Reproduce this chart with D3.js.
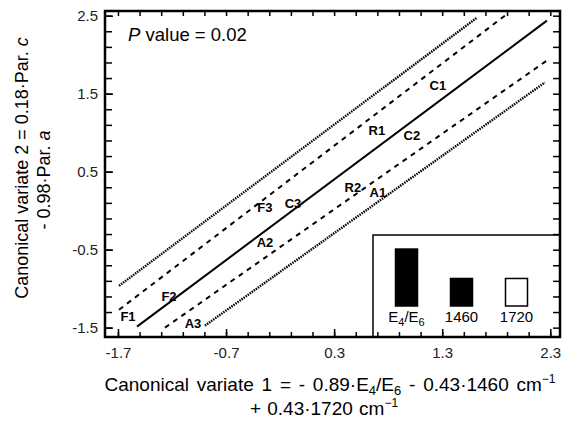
<!DOCTYPE html>
<html>
<head>
<meta charset="utf-8">
<script src="https://cdn.jsdelivr.net/npm/d3@7/dist/d3.min.js"></script>
<style>
    body { margin: 0; background: #fff; }
    svg { font-family: "Liberation Sans", Arial, sans-serif; }
    .axis path, .axis line { stroke: #000; }
</style>
</head>
<body>
<div id="chart"></div>
<script>
// tick labels
var xTicks = [-1.7, -0.7, 0.3, 1.3, 2.3];
var yTicks = [-1.5, -0.5, 0.5, 1.5, 2.5];

// sample scores (labels sit on the points)
var pointNames = ["F1", "F2", "F3", "A1", "A2", "A3", "R1", "R2", "C1", "C2", "C3"];
var pointX = [-1.607, -1.228, -0.340, 0.705, -0.340, -1.006, 0.696, 0.474, 1.260, 1.020, -0.081];
var pointY = [-1.359, -1.104, 0.046, 0.238, -0.401, -1.449, 1.030, 0.302, 1.605, 0.966, 0.097];

// regression line and bands, end points [x, y]
var fitLine = [[-1.524, -1.487], [2.269, 2.436]];
var innerUpper = [[-1.690, -1.270], [1.880, 2.500]];
var innerLower = [[-1.265, -1.500], [2.269, 1.925]];
var outerUpper = [[-1.690, -0.963], [1.621, 2.474]];
var outerLower = [[-0.895, -1.474], [2.250, 1.644]];

// legend: absolute coefficients of canonical variate 1, filled = negative
var legendNames = ["E4/E6", "1460", "1720"];
var legendCoefs = [0.89, 0.43, 0.43];
var legendNegative = [true, true, false];

var width = 567, height = 426;
var margin = {left: 105, right: 7, top: 11, bottom: 89};

var svg = d3.select("#chart").append("svg")
    .attr("width", width).attr("height", height);

var x = d3.scaleLinear().domain([-1.82, 2.39]).range([margin.left, width - margin.right]);
var y = d3.scaleLinear().domain([-1.62, 2.56]).range([height - margin.bottom, margin.top]);

var x0 = x.range()[0], x1 = x.range()[1], y0 = y.range()[0], y1 = y.range()[1];
var fmt = d => d.toFixed(1);

// legend box (drawn first so the frame ticks stay on top)
var lg = svg.append("g").attr("class", "legend");
lg.append("rect")
    .attr("x", 373).attr("y", 235)
    .attr("width", x1 - 373).attr("height", y0 - 235)
    .attr("fill", "#fff").attr("stroke", "#000").attr("stroke-width", 1.5);

var lx = d3.scaleBand().domain(legendNames).range([379, 544]).paddingInner(0.6).paddingOuter(0.3);
var lh = d3.scaleLinear().domain([0, 1]).range([306, 242]);

lg.selectAll(".lbar").data(legendNames).enter().append("rect")
    .attr("class", "lbar")
    .attr("x", d => lx(d))
    .attr("width", lx.bandwidth())
    .attr("y", (d, i) => lh(legendCoefs[i]))
    .attr("height", (d, i) => lh(0) - lh(legendCoefs[i]))
    .attr("fill", (d, i) => legendNegative[i] ? "#000" : "#fff")
    .attr("stroke", "#000").attr("stroke-width", 1.5);

lg.selectAll(".llab").data(legendNames).enter().append("text")
    .attr("class", "llab")
    .attr("x", d => lx(d) + lx.bandwidth() / 2)
    .attr("y", 322)
    .attr("text-anchor", "middle")
    .attr("font-size", 15)
    .each(function (d) {
        var t = d3.select(this);
        if (d === "E4/E6") {
            t.append("tspan").text("E");
            t.append("tspan").attr("font-size", 11).attr("dy", 4).text("4");
            t.append("tspan").attr("dy", -4).text("/E");
            t.append("tspan").attr("font-size", 11).attr("dy", 4).text("6");
        } else {
            t.text(d);
        }
    });

// lines
var line = d3.line().x(d => x(d[0])).y(d => y(d[1]));

svg.append("path").attr("d", line(outerUpper))
    .attr("fill", "none").attr("stroke", "#000").attr("stroke-width", 2.4).attr("stroke-dasharray", "1.5,1");
svg.append("path").attr("d", line(outerLower))
    .attr("fill", "none").attr("stroke", "#000").attr("stroke-width", 2.4).attr("stroke-dasharray", "1.5,1");
svg.append("path").attr("d", line(innerUpper))
    .attr("fill", "none").attr("stroke", "#000").attr("stroke-width", 2).attr("stroke-dasharray", "5,5");
svg.append("path").attr("d", line(innerLower))
    .attr("fill", "none").attr("stroke", "#000").attr("stroke-width", 2).attr("stroke-dasharray", "5,5");
svg.append("path").attr("d", line(fitLine))
    .attr("fill", "none").attr("stroke", "#000").attr("stroke-width", 2);

// point labels
svg.selectAll(".plab").data(pointNames).enter().append("text")
    .attr("class", "plab")
    .attr("x", (d, i) => x(pointX[i]))
    .attr("y", (d, i) => y(pointY[i]))
    .attr("dy", "0.36em")
    .attr("text-anchor", "middle")
    .attr("font-size", 13).attr("font-weight", "bold")
    .text(d => d);

// axes: minor and major ticks, all pointing inward
var xMinor = d3.range(-1.7, 2.31, 0.2);
var yMinor = d3.range(-1.5, 2.51, 0.2);

function styleAxis(g) {
    g.select(".domain").remove();
    g.selectAll("line").attr("stroke-width", 1.5);
    g.selectAll("text").attr("font-size", 15).attr("fill", "#222").attr("font-family", "Liberation Sans, Arial, sans-serif");
}

svg.append("g").attr("class", "axis").attr("transform", "translate(0," + y0 + ")")
    .call(d3.axisBottom(x).tickValues(xMinor).tickSize(-5).tickFormat(""))
    .call(styleAxis);
svg.append("g").attr("class", "axis").attr("transform", "translate(0," + y0 + ")")
    .call(d3.axisBottom(x).tickValues(xTicks).tickSize(-8).tickPadding(10).tickFormat(fmt))
    .call(styleAxis);
svg.append("g").attr("class", "axis").attr("transform", "translate(0," + y1 + ")")
    .call(d3.axisTop(x).tickValues(xMinor).tickSize(-5).tickFormat(""))
    .call(styleAxis);

svg.append("g").attr("class", "axis").attr("transform", "translate(" + x0 + ",0)")
    .call(d3.axisLeft(y).tickValues(yMinor).tickSize(-7).tickFormat(""))
    .call(styleAxis);
svg.append("g").attr("class", "axis").attr("transform", "translate(" + x0 + ",0)")
    .call(d3.axisLeft(y).tickValues(yTicks).tickSize(-8).tickPadding(7).tickFormat(fmt))
    .call(styleAxis);
svg.append("g").attr("class", "axis").attr("transform", "translate(" + x1 + ",0)")
    .call(d3.axisRight(y).tickValues(yMinor).tickSize(-7).tickFormat(""))
    .call(styleAxis);

// frame
svg.append("rect")
    .attr("x", x0).attr("y", y1)
    .attr("width", x1 - x0).attr("height", y0 - y1)
    .attr("fill", "none").attr("stroke", "#000").attr("stroke-width", 2.5);

// P value annotation
var pv = svg.append("text").attr("x", 128).attr("y", 41).attr("font-size", 18.5);
pv.append("tspan").attr("font-style", "italic").text("P");
pv.append("tspan").text(" value = 0.02");

// x axis title
var xt1 = svg.append("text").attr("x", 330).attr("y", 391).attr("text-anchor", "middle")
    .attr("font-size", 19).attr("word-spacing", 2.5);
xt1.append("tspan").text("Canonical variate 1 = - 0.89\u00b7E");
xt1.append("tspan").attr("font-size", 13).attr("dy", 4).text("4");
xt1.append("tspan").attr("dy", -4).text("/E");
xt1.append("tspan").attr("font-size", 13).attr("dy", 4).text("6");
xt1.append("tspan").attr("dy", -4).text(" - 0.43\u00b71460 cm");
xt1.append("tspan").attr("font-size", 12).attr("dy", -8).text("\u22121");

var xt2 = svg.append("text").attr("x", 324).attr("y", 415).attr("text-anchor", "middle")
    .attr("font-size", 19).attr("word-spacing", 1);
xt2.append("tspan").text("+ 0.43\u00b71720 cm");
xt2.append("tspan").attr("font-size", 12).attr("dy", -8).text("\u22121");

// y axis title
var yt = svg.append("g").attr("transform", "translate(0,168) rotate(-90)");
var yt1 = yt.append("text").attr("x", 0).attr("y", 28).attr("text-anchor", "middle")
    .attr("font-size", 18);
yt1.append("tspan").text("Canonical variate 2 = 0.18\u00b7Par. ");
yt1.append("tspan").attr("font-style", "italic").text("c");
var yt2 = yt.append("text").attr("x", -12).attr("y", 50).attr("text-anchor", "middle")
    .attr("font-size", 18);
yt2.append("tspan").text("- 0.98\u00b7Par. ");
yt2.append("tspan").attr("font-style", "italic").text("a");
</script>
</body>
</html>
